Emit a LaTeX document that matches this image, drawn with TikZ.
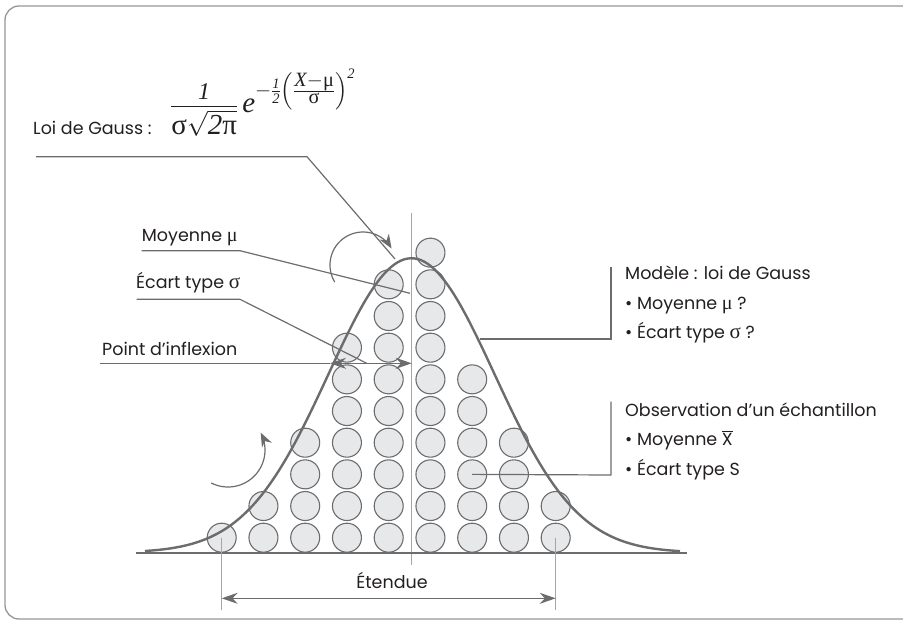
\documentclass[tikz,border=0pt]{standalone}
\usepackage{fontspec}
\usepackage{amsmath}
\setmainfont{Poppins}
\newfontfamily\grec{Liberation Serif}
\usetikzlibrary{arrows.meta}

\definecolor{trait}{RGB}{108,108,111}
\definecolor{axe}{RGB}{165,165,168}
\definecolor{bille}{RGB}{231,232,234}
\definecolor{texte}{RGB}{35,31,32}
\definecolor{cadre}{RGB}{150,150,152}
\newcommand{\gmu}{\text{\grec μ}}
\newcommand{\gsig}{\text{\grec σ}}
\newcommand{\gpi}{\text{\grec π}}
\newcommand{\ti}[1]{\text{\grec\itshape #1}}
\newcommand{\tmu}{{\grec\fontsize{20}{20}\selectfont μ}}
\newcommand{\tsig}{{\grec\fontsize{21}{20}\selectfont σ}}

\begin{document}
\begin{tikzpicture}[x=1pt, y=-1pt,
        ball/.style={circle, draw=trait, fill=bille, line width=1.1pt,
                     minimum size=29pt, inner sep=0pt},
        lbl/.style={font=\fontsize{17.5}{20}\selectfont, text=texte,
                    inner sep=0pt, anchor=base west},
        lead/.style={draw=trait, line width=1.2pt},
        courbe/.style={draw=trait, line width=2.4pt},
        arr/.style={-{Stealth[length=14pt,width=11pt]}, draw=trait, line width=1.2pt},
        >={Stealth[length=16pt,width=11pt]}
    ]
    \useasboundingbox (0,0) rectangle (903,623);
    % frame
    \begin{scope}
        \clip (0,0) rectangle (903,623);
        \draw[cadre, line width=1.3pt, rounded corners=14pt] (5,6) rectangle (916,619);
    \end{scope}
    % sample balls
    \foreach \i/\n in {0/1, 1/2, 2/4, 3/7, 4/9, 5/10, 6/6, 7/4, 8/2}
        \foreach \k in {1,...,\n}
            \node[ball] (b\i-\k) at ({221.7+41.75*\i}, {537.7-31.67*(\k-1)}) {};
    % axis of the mean
    \coordinate (axeH) at (411.7,213);
    \coordinate (axeB) at (411.7,565);
    \draw[draw=axe, line width=1.4pt] (axeH) -- (axeB);
    % Gauss curve and base line
    \draw[courbe] plot[domain=145:680, samples=160]
        (\x, {552.7-294.4*exp(-0.5*((\x-411.5)/83)*((\x-411.5)/83))});
    \coordinate (baseG) at (136,552.7);
    \coordinate (baseD) at (687,552.7);
    \draw[courbe, line width=2.2pt] (baseG) -- (baseD);
    % labels
    \node[lbl] (loi) at (33,135) {Loi de Gauss :};
    \node[anchor=base west, inner sep=0pt, text=texte,
          font=\fontsize{29}{30}\selectfont] (formule) at (170,113)
        {$\displaystyle\frac{\raisebox{-3pt}[\height][0pt]{\grec\itshape\fontsize{24}{24}\selectfont 1}}{\gsig\sqrt{\ti{2}\gpi}}\,
          \ti{e}^{-\frac{\ti{1}}{\ti{2}}\left(\frac{\scriptstyle \ti{X}-\gmu}{\scriptstyle\gsig}\right)^{\ti{2}}}$};
    \node[lbl] (moy) at (141.7,241.7) {Moyenne \tmu};
    \node[lbl] (ecart) at (136,288.3) {Écart type \tsig};
    \node[lbl] (infl) at (102,355) {Point d'inflexion};
    \node[lbl] (modele) at (625,279.3) {Modèle : loi de Gauss};
    \node[lbl] (modmoy) at (625,309) {\textbullet{} Moyenne \tmu{} ?};
    \node[lbl] (modec) at (625,338.5) {\textbullet{} Écart type \tsig{} ?};
    \node[lbl] (obs) at (625,416.7) {Observation d'un échantillon};
    \node[lbl] (obsmoy) at (625,445.7) {\textbullet{} Moyenne $\overline{\text{X}}$};
    \node[lbl] (obsec) at (625,475) {\textbullet{} Écart type S};
    \node[lbl, anchor=base] (etendue) at (392,588) {Étendue};
    % leaders on the left
    \coordinate (gA) at (36,156.7);
    \coordinate (gB) at (307,156.7);
    \coordinate (gC) at (395,259);
    \draw[lead] (gA) -- (gB) -- (gC);
    \coordinate (mA) at (141.7,250.7);
    \coordinate (mB) at (240,250.7);
    \coordinate (mC) at (410,293.3);
    \draw[lead] (mA) -- (mB) -- (mC);
    \coordinate (eA) at (136.7,299.3);
    \coordinate (eB) at (240,299.3);
    \coordinate (iA) at (100,363.3);
    \coordinate (iG) at (330,363.3);
    \coordinate (iM) at (366.7,363.3);
    \coordinate (iD) at (411.7,363.3);
    \draw[lead] (eA) -- (eB) -- (iM);
    \draw[lead] (iA) -- (iG);
    \draw[lead, <->] (iG) -- (iD);
    % leaders on the right
    \coordinate (dA) at (480,339);
    \coordinate (dB) at (611,339);
    \coordinate (dC) at (611,267);
    \draw[lead] (dA) -- (dB) -- (dC);
    \coordinate (oB) at (611,475);
    \coordinate (oC) at (611,401.7);
    \draw[lead] (b6-3.center) -- (oB) -- (oC);
    % range
    \coordinate (rG) at (221.7,610);
    \coordinate (rD) at (555.7,610);
    \draw[draw=axe, line width=1.2pt] (b0-1.center) -- (rG);
    \draw[draw=axe, line width=1.2pt] (b8-1.center) -- (rD);
    \draw[lead, <->] (221.7,598.3) -- (555.7,598.3);
    % turning arrows
    \draw[arr] plot[domain=0:181, samples=50]
        ({363+33*cos(211-\x)}, {265-33*sin(211-\x)});
    \draw[arr] plot[domain=-117:28, samples=50]
        ({228+37*cos(\x)}, {450-37*sin(\x)});
\end{tikzpicture}
\end{document}
